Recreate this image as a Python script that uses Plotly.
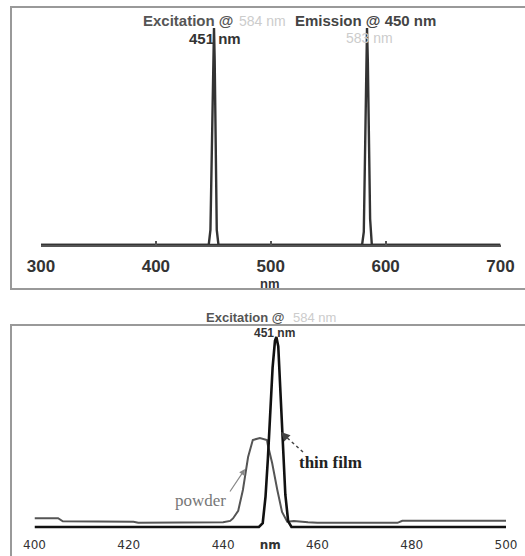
import plotly.graph_objects as go

W, H = 525, 556

# ---- Top panel data (wavelength nm, normalized intensity) ----
exc_top_x = [300, 446.0, 447.5, 448.5, 449.3, 450.0, 450.6, 451.2, 452.0, 453.0, 454.5, 700]
exc_top_y = [0, 0, 0.07, 0.40, 0.70, 0.95, 1.0, 0.85, 0.45, 0.07, 0, 0]
emi_top_x = [300, 579.5, 581.0, 582.2, 583.0, 583.8, 584.5, 585.3, 586.5, 588.0, 700]
emi_top_y = [0, 0, 0.06, 0.40, 0.80, 1.0, 0.85, 0.55, 0.12, 0, 0]
top_ticks = [300, 400, 500, 600, 700]

# ---- Bottom panel data ----
film_x = [400, 447.6, 448.4, 449.0, 449.5, 450.0, 450.5, 451.0, 451.3, 451.7, 452.2, 452.7, 453.2, 453.8, 454.5, 500]
film_y = [0, 0, 0.02, 0.16, 0.36, 0.60, 0.84, 0.98, 1.0, 0.95, 0.70, 0.42, 0.17, 0.03, 0, 0]
powder_x = [400, 405, 406, 421, 422, 438, 440, 441.5, 442.1, 443.2, 444.2, 445.3, 446.3, 447.8,
            449.3, 449.5, 450.4, 451.5, 452.5, 453.6, 455, 458, 460, 477, 478, 500]
powder_y = [0.046, 0.046, 0.030, 0.028, 0.023, 0.022, 0.025, 0.032, 0.045, 0.085, 0.195, 0.368, 0.458, 0.468,
            0.458, 0.43, 0.337, 0.195, 0.079, 0.028, 0.032, 0.025, 0.022, 0.022, 0.033, 0.033]
bot_tickvals = [400, 420, 440, 450, 460, 480, 500]
bot_ticktext = ["400", "420", "440", "<b>nm</b>", "460", "480", "500"]


def px(x):
    return x / W


def py(y):
    return 1 - y / H


fig = go.Figure()
fig.add_trace(go.Scatter(x=exc_top_x, y=exc_top_y, mode="lines",
                         line=dict(color="#333333", width=2.4), xaxis="x", yaxis="y"))
fig.add_trace(go.Scatter(x=emi_top_x, y=emi_top_y, mode="lines",
                         line=dict(color="#333333", width=2.4), xaxis="x", yaxis="y"))
fig.add_trace(go.Scatter(x=powder_x, y=powder_y, mode="lines",
                         line=dict(color="#555555", width=2), xaxis="x2", yaxis="y2"))
fig.add_trace(go.Scatter(x=film_x, y=film_y, mode="lines",
                         line=dict(color="#111111", width=2.6), xaxis="x2", yaxis="y2"))

# pixel geometry (reference pixels)
top_base, top_peak = 245, 28
yr_top = [0, 1.02]
top_domain = [py(top_base), py(top_peak - 0.02 * (top_base - top_peak))]
bot_base, bot_peak = 527, 337
scale_b = bot_base - bot_peak
yr_bot = [-0.02, 1.02]
bot_domain = [py(bot_base + 0.02 * scale_b), py(bot_peak - 0.02 * scale_b)]

fig.update_layout(
    template="none",
    width=W, height=H, margin=dict(l=0, r=0, t=0, b=0, pad=0, autoexpand=False),
    paper_bgcolor="white", plot_bgcolor="white", showlegend=False,
    xaxis=dict(domain=[px(41), px(500.5)], range=[300, 700], anchor="y", automargin=False,
               showline=True, linecolor="#555555", linewidth=2, showgrid=False, zeroline=False,
               ticks="inside", ticklen=4, tickwidth=1.5, tickcolor="#555555",
               tickvals=top_ticks, ticklabelstandoff=5,
               tickfont=dict(family="Arial, Liberation Sans", size=17, color="#333333", weight="bold")),
    yaxis=dict(domain=top_domain, range=yr_top, visible=False, anchor="x", automargin=False),
    xaxis2=dict(domain=[px(34.5), px(506)], range=[400, 500], anchor="y2", automargin=False,
                showline=False, showgrid=False, zeroline=False, ticks="",
                tickvals=bot_tickvals, ticktext=bot_ticktext, ticklabelstandoff=5,
                tickfont=dict(family="DejaVu Sans", size=12, color="#333333")),
    yaxis2=dict(domain=bot_domain, range=yr_bot, visible=False, anchor="x2", automargin=False),
)


# panel frames (left, top, bottom edges; right edge lies outside the window)
def frame_line(x0, y0, x1, y1):
    fig.add_shape(type="line", xref="paper", yref="paper", x0=px(x0), y0=py(y0), x1=px(x1), y1=py(y1),
                  line=dict(color="#999999", width=2), layer="above")


frame_line(11, 7, 11, 289)
frame_line(10, 7, 530, 7)
frame_line(10, 289, 530, 289)
frame_line(11, 325, 11, 560)
frame_line(10, 325, 530, 325)


def txt(x, y, s, size, color, bold=False, family="Arial, Liberation Sans"):
    fig.add_annotation(x=px(x), y=py(y), xref="paper", yref="paper", text=s, showarrow=False,
                       xanchor="center", yanchor="middle",
                       font=dict(family=family, size=size, color=color, weight="bold" if bold else "normal"))


# top panel texts (centres)
txt(188, 21, "Excitation @", 15, "#555555", True)
txt(262.5, 21, "584 nm", 14, "#cccccc")
txt(365.5, 21, "Emission @ 450 nm", 15, "#444444", True)
txt(214.5, 38, "451 nm", 15, "#333333", True)
txt(369, 38, "583 nm", 14, "#cccccc")
txt(270, 283, "nm", 13, "#333333", True)

# bottom panel texts
txt(245, 317, "Excitation @", 13, "#555555", True)
txt(314, 317, "584 nm", 13, "#cccccc")
txt(274, 333, "451 nm", 12, "#333333", True)
txt(200, 500, "powder", 17, "#777777", family="Liberation Serif")
txt(330.5, 462, "thin film", 17, "#222222", True, family="Liberation Serif")

# arrows
fig.add_annotation(x=px(245), y=py(469), xref="paper", yref="paper", ax=-16, ay=24,
                   showarrow=True, arrowhead=2, arrowsize=1, arrowwidth=1.2, arrowcolor="#888888", text="")
fig.add_shape(type="line", xref="paper", yref="paper", x0=px(303), y0=py(452), x1=px(284), y1=py(435),
              line=dict(color="#444444", width=1.5, dash="dot"))
fig.add_annotation(x=px(281), y=py(432), xref="paper", yref="paper", ax=4, ay=4,
                   showarrow=True, arrowhead=2, arrowsize=1.2, arrowwidth=1.5, arrowcolor="#444444", text="")

fig.write_html("out.html", config={"displayModeBar": False},
               post_script="document.body.style.margin='0';document.body.style.overflow='hidden';")
